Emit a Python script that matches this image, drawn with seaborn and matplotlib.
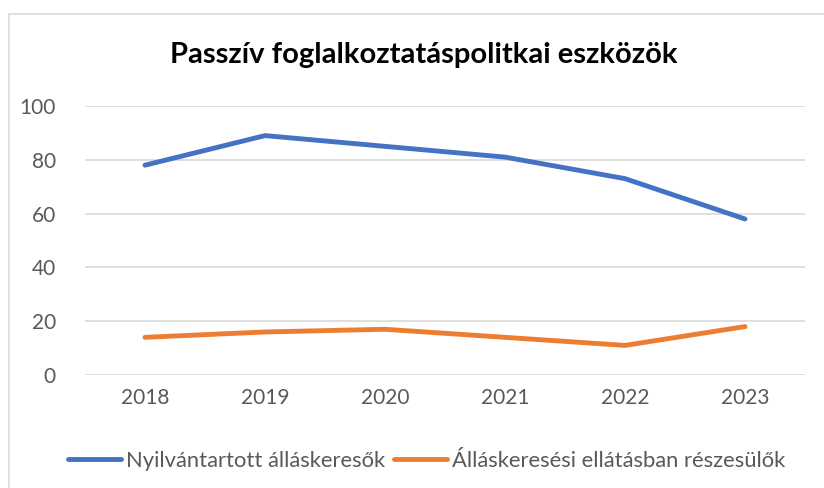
import matplotlib
matplotlib.use("Agg")
import matplotlib.pyplot as plt
import matplotlib.patches as mpatches
import seaborn as sns
import pandas as pd

# chart values
years = ["2018", "2019", "2020", "2021", "2022", "2023"]
registered = [78, 89, 85, 81, 73, 58]
benefits = [14, 16, 17, 14, 11, 18]
series_names = ["Nyilvántartott álláskeresők", "Álláskeresési ellátásban részesülők"]
title = "Passzív foglalkoztatáspolitkai eszközök"

df = pd.DataFrame({
    "year": years * 2,
    "value": registered + benefits,
    "series": [series_names[0]] * len(years) + [series_names[1]] * len(years),
})

sns.set_theme(style="white")
plt.rcParams["font.family"] = ["Lato", "DejaVu Sans"]

fig = plt.figure(figsize=(8.24, 4.88), dpi=100)
ax = fig.add_axes([85 / 824, 1 - 375 / 488, 720 / 824, 269 / 488])

sns.lineplot(data=df, x="year", y="value", hue="series",
             palette=["#4472C4", "#ED7D31"], linewidth=3.5,
             solid_capstyle="round", ax=ax, sort=False)

ax.set_xlim(-0.5, len(years) - 0.5)
ax.set_ylim(0, 100)
ax.set_yticks(range(0, 101, 20))
ax.yaxis.grid(True, color="#D9D9D9", linewidth=1.2)
ax.set_axisbelow(True)
for s in ax.spines.values():
    s.set_visible(False)
ax.tick_params(axis="both", length=0, labelsize=15, labelcolor="#595959")
ax.tick_params(axis="y", pad=21)
ax.tick_params(axis="x", pad=9)
ax.set_xlabel("")
ax.set_ylabel("")

fig.text(424 / 824, 1 - 55 / 488, title, ha="center", va="center",
         fontsize=21, fontweight="bold", color="black")

handles, labels = ax.get_legend_handles_labels()
ax.legend(handles, labels, loc="center", bbox_to_anchor=((427 - 85) / 720, -0.32),
          ncol=2, frameon=False, fontsize=15.8, labelcolor="#595959",
          handlelength=2.4, handletextpad=0.25, columnspacing=0.4)

# chart area border
fig.patches.append(mpatches.Rectangle((9 / 824, -0.1), 1.2, 1 - 14 / 488 + 0.1,
                                      transform=fig.transFigure, fill=False,
                                      edgecolor="#D9D9D9", linewidth=1.2))

fig.savefig("out.png", dpi=100)
